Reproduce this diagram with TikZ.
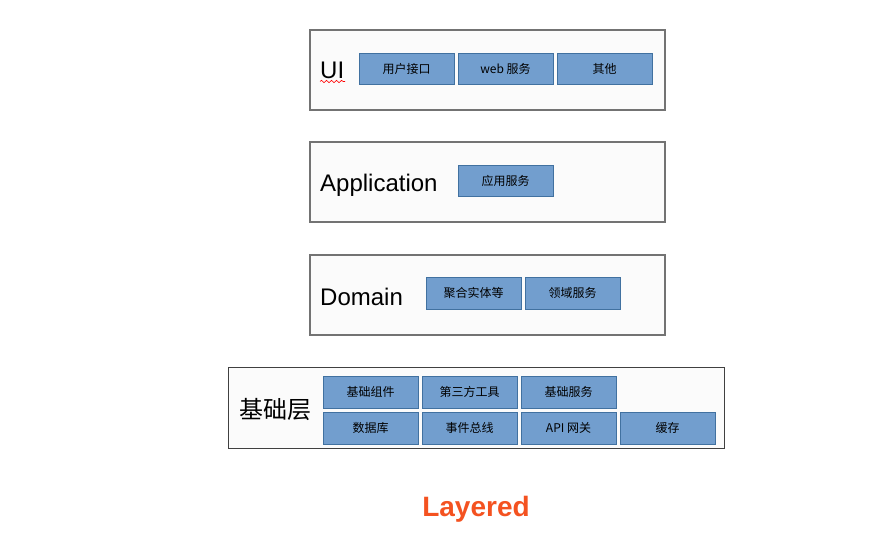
\documentclass[tikz,border=0pt]{standalone}
\usepackage{fontspec}
\setmainfont{Liberation Sans}
\newfontfamily\cjk{Noto Sans CJK SC}
\usetikzlibrary{decorations.pathmorphing}
\definecolor{itemfill}{RGB}{114,158,206}
\definecolor{itemdraw}{RGB}{65,113,160}
\definecolor{layerdraw}{RGB}{115,115,115}
\definecolor{layerfill}{RGB}{251,251,251}
\definecolor{titlecol}{RGB}{244,82,32}
\tikzset{
  layerbox/.style={draw=layerdraw, fill=layerfill, line width=1.2pt},
  itembox/.style={draw=itemdraw, fill=itemfill, line width=0.9pt},
  itemtext/.style={font=\fontsize{12}{14}\selectfont\cjk, text=black},
  layerlabel/.style={anchor=west, font=\fontsize{24}{28}\selectfont, inner sep=0pt},
}
\newcommand{\itemnode}[6]{%
  \draw[itembox] (#2,#3) rectangle (#4,#5);
  \node[itemtext] (#1) at ({(#2+#4)/2},{(#3+#5)/2}) {#6};}
\begin{document}
\begin{tikzpicture}[x=1pt,y=-1pt]
\useasboundingbox (0,0) rectangle (893,541);
% UI
\draw[layerbox] (310,30) rectangle (665,110);
\node[layerlabel] (ui) at (320,70) {UI};
\draw[red, line width=0.6pt, decorate, decoration={snake, amplitude=1.2pt, segment length=5pt}] (320,81.5) -- (345,81.5);
\itemnode{ui1}{359}{53}{454}{84}{用户接口}
\itemnode{ui2}{458}{53}{553}{84}{web 服务}
\itemnode{ui3}{557}{53}{652}{84}{其他}
% Application
\draw[layerbox] (310,142) rectangle (665,222);
\node[layerlabel] (app) at (320,185) {Application};
\itemnode{app1}{458}{165}{553}{196}{应用服务}
% Domain
\draw[layerbox] (310,255) rectangle (665,335);
\node[layerlabel] (dom) at (320,297) {Domain};
\itemnode{dom1}{426}{277}{521}{309}{聚合实体等}
\itemnode{dom2}{525}{277}{620}{309}{领域服务}
% Infrastructure
\draw[layerbox, draw=black!75, line width=1pt] (228,367) rectangle (724,448);
\node[layerlabel, font=\fontsize{24}{28}\selectfont\cjk] (inf) at (239,409) {基础层};
\itemnode{inf1}{323}{376}{418}{408}{基础组件}
\itemnode{inf2}{422}{376}{517}{408}{第三方工具}
\itemnode{inf3}{521}{376}{616}{408}{基础服务}
\itemnode{inf4}{323}{412}{418}{444}{数据库}
\itemnode{inf5}{422}{412}{517}{444}{事件总线}
\itemnode{inf6}{521}{412}{616}{444}{API 网关}
\itemnode{inf7}{620}{412}{715}{444}{缓存}
% title
\node[font=\fontsize{28}{32}\selectfont\bfseries, text=titlecol] (title) at (476,509) {Layered};
\end{tikzpicture}
\end{document}
